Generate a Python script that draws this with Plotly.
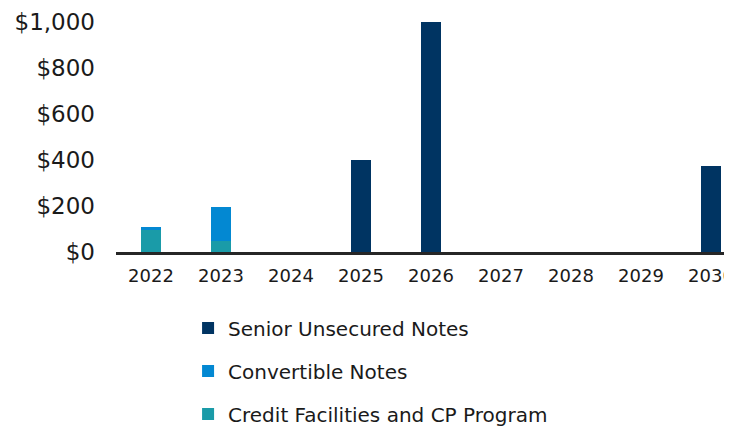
import plotly.graph_objects as go

years = ["2022", "2023", "2024", "2025", "2026", "2027", "2028", "2029", "2030"]
credit_cp = [99, 48, 0, 0, 0, 0, 0, 0, 0]
convertible = [8, 146, 0, 0, 0, 0, 0, 0, 0]
senior = [0, 0, 0, 400, 1000, 0, 0, 0, 375]
y_ticks = [0, 200, 400, 600, 800, 1000]
y_tick_text = ["$0", "$200", "$400", "$600", "$800", "$1,000"]

font_family = "'DejaVu Sans', sans-serif"

fig = go.Figure()
series = [
    ("Credit Facilities and CP Program", credit_cp, "#1A9BA8", 3),
    ("Convertible Notes", convertible, "#0388D2", 2),
    ("Senior Unsecured Notes", senior, "#003462", 1),
]
for name, vals, color, rank in series:
    fig.add_trace(go.Bar(
        x=years, y=vals, name=name, marker_color=color,
        marker_line_width=0, legendgroup="g%d" % rank, legendrank=rank,
    ))

fig.update_layout(
    width=732, height=426,
    barmode="stack",
    bargap=0.71,
    paper_bgcolor="white", plot_bgcolor="white",
    margin=dict(l=108, r=8, t=14, b=182, autoexpand=False),
    font=dict(family=font_family, color="#1a1a1a"),
    showlegend=True,
    legend=dict(
        x=0.117, y=-0.246, xanchor="left", yanchor="top",
        orientation="v", traceorder="grouped",
        tracegroupgap=14,
        font=dict(size=20, family=font_family, color="#1a1a1a"),
        bgcolor="rgba(0,0,0,0)",
    ),
    xaxis=dict(
        type="category", range=[-0.5, 8.3], automargin=False,
        showline=True, linecolor="#262626", linewidth=3,
        showgrid=False, ticks="", ticklabelstandoff=5,
        tickfont=dict(size=18, family=font_family, color="#1a1a1a"),
    ),
    yaxis=dict(
        range=[0, 1000], tickvals=y_ticks, ticktext=y_tick_text, automargin=False,
        showgrid=False, zeroline=False, showline=False, ticks="",
        ticklabelstandoff=20,
        tickfont=dict(size=23, family=font_family, color="#1a1a1a"),
    ),
)

fig.write_html("out.html")
